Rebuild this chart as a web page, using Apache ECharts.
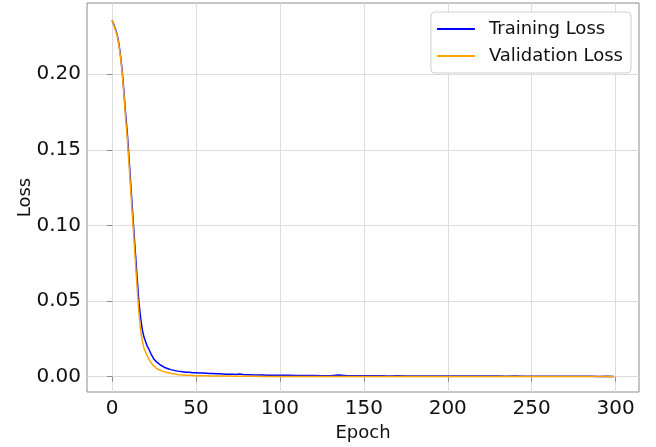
<!DOCTYPE html>
<html>
<head>
<meta charset="utf-8">
<script src="https://cdn.jsdelivr.net/npm/echarts@6/dist/echarts.min.js"></script>
<style>html,body{margin:0;padding:0;background:#fff;}#c{width:656px;height:447px;}</style>
</head>
<body>
<div id="c"></div>
<script>
const epochs = [0,1,2,3,4,5,6,7,8,9,10,11,12,13,14,15,16,17,18,19,20,21,22,23,24,25,26,27,28,29,30,31,32,33,34,35,36,37,38,39,40,
  42,44,46,48,50,52,54,56,58,60,62,64,66,68,70,72,74,76,78,80,82,84,86,88,90,92,94,96,98,100,
  105,110,115,120,125,130,135,140,145,150,155,160,165,170,175,180,185,190,195,200,
  205,210,215,220,225,230,235,240,245,250,255,260,265,270,275,280,285,290,295,299];

const trainLoss = [0.2355,0.2330,0.2298,0.2262,0.2205,0.2125,0.2025,0.1890,0.1745,0.1620,
  0.1460,0.1290,0.1125,0.0960,0.0800,0.0640,0.0490,0.0390,0.0310,0.0262,
  0.0232,0.0200,0.0180,0.0155,0.0135,0.0115,0.0102,0.0093,0.0085,0.0076,
  0.0070,0.0063,0.0058,0.0054,0.0050,0.0047,0.0045,0.0042,0.0040,0.0037,0.0035,
  0.0033,0.0030,0.0029,0.0027,0.0026,0.0025,0.0024,0.0023,0.0021,0.0022,
  0.0019,0.0019,0.0018,0.0017,0.0016,0.0017,0.0015,0.0018,0.0014,0.0013,
  0.0013,0.0012,0.0012,0.0011,0.0011,0.0010,0.0010,0.0009,0.0010,0.0009,
  0.0009,0.0008,0.0008,0.0008,0.0007,0.0007,0.0012,0.0007,0.0007,0.0006,
  0.0006,0.0006,0.0005,0.0006,0.0005,0.0005,0.0005,0.0005,0.0004,0.0005,
  0.0004,0.0004,0.0004,0.0004,0.0004,0.0004,0.0003,0.0004,0.0003,0.0003,
  0.0003,0.0003,0.0003,0.0003,0.0003,0.0003,0.0003,0.0002,0.0003,0.0002];

const valLoss = [0.2355,0.2325,0.2290,0.2255,0.2195,0.2115,0.2010,0.1870,0.1715,0.1585,
  0.1420,0.1250,0.1080,0.0915,0.0740,0.0575,0.0420,0.0305,0.0235,0.0190,
  0.0160,0.0135,0.0115,0.0098,0.0080,0.0068,0.0059,0.0052,0.0046,0.0041,
  0.0037,0.0033,0.0030,0.0027,0.0025,0.0022,0.0020,0.0018,0.0016,0.0015,0.0013,
  0.0011,0.0010,0.0009,0.0008,0.0007,0.0007,0.0006,0.0006,0.0005,0.0005,
  0.0004,0.0004,0.0004,0.0004,0.0004,0.0003,0.0003,0.0003,0.0003,0.0003,
  0.0003,0.0003,0.0003,0.0002,0.0002,0.0002,0.0002,0.0002,0.0002,0.0002,
  0.0002,0.0002,0.0002,0.0002,0.0002,0.0002,0.0002,0.0002,0.0002,0.0002,
  0.0002,0.0002,0.0002,0.0002,0.0002,0.0002,0.0002,0.0002,0.0002,0.0002,
  0.0001,0.0001,0.0001,0.0001,0.0001,0.0001,0.0001,0.0001,0.0001,0.0001,
  0.0001,0.0001,0.0001,0.0001,0.0001,0.0001,0.0001,0.0001,0.0001,0.0001];

const xTicks = [0,50,100,150,200,250,300];
const yTicks = [0,0.05,0.10,0.15,0.20];

const FONT = 'DejaVu Sans';
const TXT = '#111';
const chart = echarts.init(document.getElementById('c'), null, {renderer: 'canvas'});
const zip = (xs, ys) => xs.map((x, i) => [x, ys[i]]);

chart.setOption({
  animation: false,
  backgroundColor: '#fff',
  grid: {left: 87, right: 17, top: 3, bottom: 53, show: true, borderColor: '#8c8c8c', borderWidth: 1, containLabel: false},
  legend: {
    right: 25, top: 12, orient: 'vertical',
    backgroundColor: '#fff', borderColor: '#d0d0d0', borderWidth: 1, borderRadius: 4,
    padding: [8, 8, 8, 6], itemGap: 9, itemWidth: 38, itemHeight: 2, icon: 'rect',
    textStyle: {fontFamily: FONT, fontSize: 18, color: TXT, padding: [0, 0, 0, 9]},
    data: ['Training Loss', 'Validation Loss']
  },
  xAxis: {
    type: 'value', min: -14.95, max: 313.95,
    name: 'Epoch', nameLocation: 'middle', nameGap: 32, nameMoveOverlap: false,
    nameTextStyle: {fontFamily: FONT, fontSize: 18, color: TXT},
    axisLine: {show: false},
    axisTick: {show: true, inside: false, length: 5, customValues: xTicks, lineStyle: {color: '#8c8c8c'}},
    axisLabel: {customValues: xTicks, fontFamily: FONT, fontSize: 20, color: TXT, margin: 7},
    splitLine: {show: true, lineStyle: {color: '#dcdcdc', width: 1}}
  },
  yAxis: {
    type: 'value', min: -0.0101, max: 0.2471,
    name: 'Loss', nameLocation: 'middle', nameGap: 53, nameRotate: 90, nameMoveOverlap: false,
    nameTextStyle: {fontFamily: FONT, fontSize: 18, color: TXT},
    axisLine: {show: false},
    axisTick: {show: true, inside: false, length: 5, customValues: yTicks, lineStyle: {color: '#8c8c8c'}},
    axisLabel: {customValues: yTicks, fontFamily: FONT, fontSize: 20, color: TXT, margin: 6,
      formatter: v => v.toFixed(2)},
    splitLine: {show: true, lineStyle: {color: '#dcdcdc', width: 1}}
  },
  series: [
    {name: 'Training Loss', type: 'line', data: zip(epochs, trainLoss), showSymbol: false, symbol: 'none',
      lineStyle: {color: '#0000ff', width: 1.5}, itemStyle: {color: '#0000ff'}},
    {name: 'Validation Loss', type: 'line', data: zip(epochs, valLoss), showSymbol: false, symbol: 'none',
      lineStyle: {color: '#ffa500', width: 1.5}, itemStyle: {color: '#ffa500'}}
  ]
});
</script>
</body>
</html>
